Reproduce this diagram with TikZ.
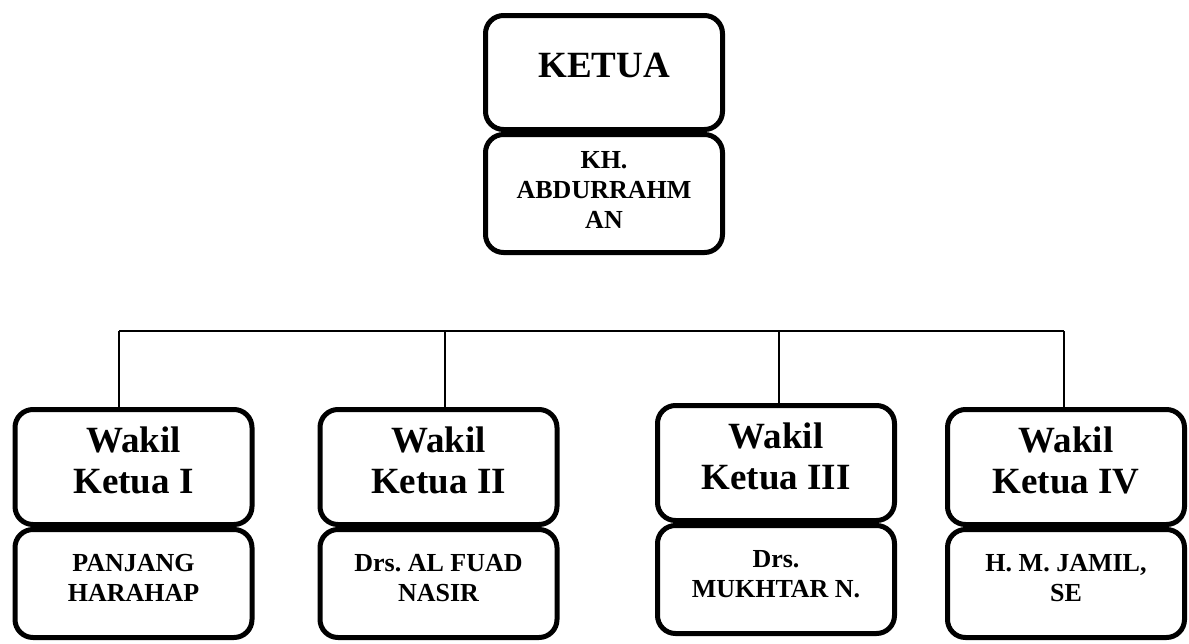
\documentclass[tikz,border=0pt]{standalone}
\usepackage{fontspec}
\setmainfont{Liberation Serif}
\usetikzlibrary{positioning}

\begin{document}
\begin{tikzpicture}[
    x=1pt, y=-1pt,
    titlenode/.style={rectangle, draw=black, line width=5pt, rounded corners=18pt, minimum width=237pt, minimum height=115pt, align=center, inner sep=2pt, text depth=14pt, font=\fontsize{37}{41}\selectfont\bfseries\frenchspacing},
    namenode/.style={rectangle, draw=black, line width=5pt, rounded corners=18pt, minimum width=237pt, minimum height=108pt, align=center, inner sep=2pt, text depth=12pt, font=\fontsize{26}{30}\selectfont\bfseries\frenchspacing},
    busline/.style={line width=2.7pt},
    ]
\useasboundingbox (0,0) rectangle (1189,643);

%Nodes
\node[titlenode, minimum height=114pt] (K)  at (604,72.5)  {KETUA};
\node[namenode, minimum height=118pt, text depth=8pt] (KN) [below=0pt of K] {KH.\\ABDURRAHM\\AN};

\node[titlenode] (W1) at (133.5,467) {Wakil\\Ketua I};
\node[titlenode] (W2) at (438.5,467) {Wakil\\Ketua II};
\node[titlenode] (W3) at (776,463)   {Wakil\\Ketua III};
\node[titlenode] (W4) at (1066,467)  {Wakil\\Ketua IV};

\node[namenode] (N1) [below=0pt of W1] {PANJANG\\HARAHAP};
\node[namenode] (N2) [below=0pt of W2] {Drs. AL FUAD\\NASIR};
\node[namenode] (N3) [below=0pt of W3] {Drs.\\MUKHTAR N.};
\node[namenode] (N4) [below=0pt of W4] {H. M. JAMIL,\\SE};

%Lines
\coordinate (B1) at (119,331);
\coordinate (B2) at (445,331);
\coordinate (B3) at (779,331);
\coordinate (B4) at (1064,331);
\draw[busline] (B1) -- (B4);
\foreach \i in {1,...,4}
    \draw[busline] (B\i) -- (B\i |- W\i.north);
\end{tikzpicture}
\end{document}
